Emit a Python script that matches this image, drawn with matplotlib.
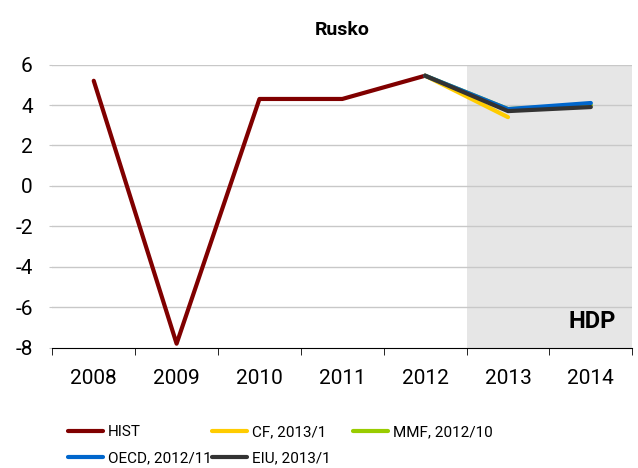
import matplotlib.pyplot as plt

plt.rcParams['axes.unicode_minus'] = False
plt.rcParams['font.family'] = ['Roboto', 'DejaVu Sans']

years = ['2008', '2009', '2010', '2011', '2012', '2013', '2014']
hist = [5.2, -7.8, 4.3, 4.3, 5.45]
cf = [5.45, 3.4]
mmf = [5.45, 3.8, 4.0]
oecd = [5.45, 3.8, 4.1]
eiu = [5.45, 3.7, 3.9]

fig = plt.figure(figsize=(6.38, 4.68), dpi=100)
ax = fig.add_axes([0.082, 0.257, 0.909, 0.605])

x = list(range(len(years)))
ax.axvspan(4.5, 6.5, color='#e6e6e6', zorder=0, lw=0)
for v in range(-6, 7, 2):
    ax.axhline(v, color='#c8c8c8', lw=1, zorder=1)

h_hist, = ax.plot(x[:5], hist, color='#800000', lw=3, label='HIST', zorder=3, solid_capstyle='round')
h_cf, = ax.plot(x[4:6], cf, color='#ffcc00', lw=3, label='CF, 2013/1', zorder=3, solid_capstyle='round')
h_mmf, = ax.plot(x[4:7], mmf, color='#99cc00', lw=3, label='MMF, 2012/10', zorder=2, solid_capstyle='round')
h_oecd, = ax.plot(x[4:7], oecd, color='#0066cc', lw=3, label='OECD, 2012/11', zorder=3, solid_capstyle='round')
h_eiu, = ax.plot(x[4:7], eiu, color='#333333', lw=3, label='EIU, 2013/1', zorder=4, solid_capstyle='round')

ax.set_xlim(-0.5, 6.5)
ax.set_ylim(-8, 6)
ax.set_yticks(range(-8, 7, 2))
ax.set_xticks(x)
ax.set_xticklabels(years)
ax.set_xticks([i + 0.5 for i in range(-1, 7)], minor=True)
ax.tick_params(axis='x', which='major', length=0, pad=15, labelsize=15)
ax.tick_params(axis='x', which='minor', length=5, color='black')
ax.tick_params(axis='y', length=2, color='#c8c8c8', labelsize=15, pad=12)

for s in ['top', 'right', 'left']:
    ax.spines[s].set_visible(False)
ax.spines['bottom'].set_color('black')

ax.set_title('Rusko', fontsize=14, fontweight='bold', pad=21)
ax.text(6.3, -6.7, 'HDP', fontsize=17, fontweight='bold', ha='right', va='center')

# legend laid out as three fixed columns, filled row by row
columns = [([h_hist, h_oecd], 68), ([h_cf, h_eiu], 212), ([h_mmf], 353)]
for hs, px in columns:
    leg = fig.legend(handles=hs, loc='upper left', bbox_to_anchor=(px / 638, 1 - 425 / 468),
                     frameon=False, fontsize=11, handlelength=2.3, handletextpad=0.3,
                     labelspacing=0.8, borderpad=0, borderaxespad=0)

fig.savefig('out.png', dpi=100, facecolor='white')
